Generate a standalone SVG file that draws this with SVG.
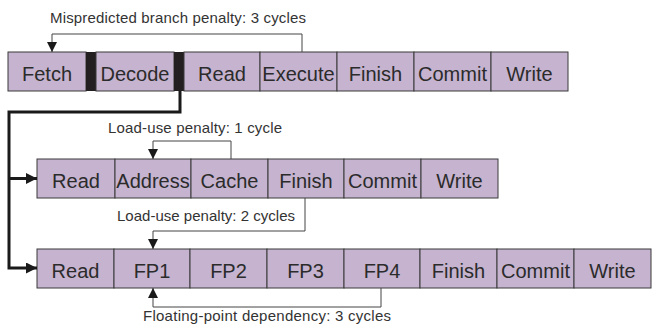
<svg xmlns="http://www.w3.org/2000/svg" width="652" height="329" viewBox="0 0 652 329">
<style>
.c{fill:#c5b3cf;stroke:#3a3a3a;stroke-width:1}
.bar{fill:#231f20}
.lb{font-family:"Liberation Sans",Arial,sans-serif;font-size:20px;fill:#2b2b2b;text-anchor:middle}
.sm{font-family:"Liberation Sans",Arial,sans-serif;font-size:15px;fill:#333;text-anchor:middle}
.thin{fill:none;stroke:#444;stroke-width:1}
.thick{fill:none;stroke:#1a1a1a;stroke-width:3}
</style>
<defs>
<marker id="a1" viewBox="0 0 10 10" refX="10" refY="5" markerWidth="10" markerHeight="10" markerUnits="userSpaceOnUse" orient="auto"><path d="M0,0 L10,5 L0,10 z" fill="#1a1a1a"/></marker>
<marker id="a2" viewBox="0 0 10 10" refX="10" refY="5" markerWidth="11" markerHeight="11" markerUnits="userSpaceOnUse" orient="auto"><path d="M0,0 L10,5 L0,10 z" fill="#1a1a1a"/></marker>
</defs>
<g id="row1">
<g id="r1-fetch"><rect class="c" x="8" y="52" width="78" height="39"/><text class="lb" x="47" y="80.5">Fetch</text></g>
<rect id="r1-bar1" class="bar" x="86" y="52" width="10" height="39"/>
<g id="r1-decode"><rect class="c" x="96" y="52" width="78" height="39"/><text class="lb" x="135" y="80.5">Decode</text></g>
<rect id="r1-bar2" class="bar" x="174" y="52" width="10" height="39"/>
<g id="r1-read"><rect class="c" x="184" y="52" width="76" height="39"/><text class="lb" x="222" y="80.5">Read</text></g>
<g id="r1-execute"><rect class="c" x="260" y="52" width="77" height="39"/><text class="lb" x="298.5" y="80.5">Execute</text></g>
<g id="r1-finish"><rect class="c" x="337" y="52" width="77" height="39"/><text class="lb" x="375.5" y="80.5">Finish</text></g>
<g id="r1-commit"><rect class="c" x="414" y="52" width="77" height="39"/><text class="lb" x="452.5" y="80.5">Commit</text></g>
<g id="r1-write"><rect class="c" x="491" y="52" width="77" height="39"/><text class="lb" x="529.5" y="80.5">Write</text></g>
</g>
<g id="row2">
<g id="r2-read"><rect class="c" x="37" y="159" width="78" height="39"/><text class="lb" x="76" y="187.5">Read</text></g>
<g id="r2-address"><rect class="c" x="115" y="159" width="76" height="39"/><text class="lb" x="153" y="187.5">Address</text></g>
<g id="r2-cache"><rect class="c" x="191" y="159" width="77" height="39"/><text class="lb" x="229.5" y="187.5">Cache</text></g>
<g id="r2-finish"><rect class="c" x="268" y="159" width="76" height="39"/><text class="lb" x="306" y="187.5">Finish</text></g>
<g id="r2-commit"><rect class="c" x="344" y="159" width="77" height="39"/><text class="lb" x="382.5" y="187.5">Commit</text></g>
<g id="r2-write"><rect class="c" x="421" y="159" width="77" height="39"/><text class="lb" x="459.5" y="187.5">Write</text></g>
</g>
<g id="row3">
<g id="r3-read"><rect class="c" x="37" y="249" width="77" height="39"/><text class="lb" x="75.5" y="277.5">Read</text></g>
<g id="r3-fp1"><rect class="c" x="114" y="249" width="76" height="39"/><text class="lb" x="152" y="277.5">FP1</text></g>
<g id="r3-fp2"><rect class="c" x="190" y="249" width="77" height="39"/><text class="lb" x="228.5" y="277.5">FP2</text></g>
<g id="r3-fp3"><rect class="c" x="267" y="249" width="77" height="39"/><text class="lb" x="305.5" y="277.5">FP3</text></g>
<g id="r3-fp4"><rect class="c" x="344" y="249" width="76" height="39"/><text class="lb" x="382" y="277.5">FP4</text></g>
<g id="r3-finish"><rect class="c" x="420" y="249" width="77" height="39"/><text class="lb" x="458.5" y="277.5">Finish</text></g>
<g id="r3-commit"><rect class="c" x="497" y="249" width="77" height="39"/><text class="lb" x="535.5" y="277.5">Commit</text></g>
<g id="r3-write"><rect class="c" x="574" y="249" width="77" height="39"/><text class="lb" x="612.5" y="277.5">Write</text></g>
</g>
<g id="connectors">
<path class="thin" d="M302,52 V34 H52 V52" marker-end="url(#a1)"/>
<path class="thin" d="M231,159 V141 H153 V159" marker-end="url(#a1)"/>
<path class="thin" d="M305,198 V231 H153 V249" marker-end="url(#a1)"/>
<path class="thin" d="M381,288 V307 H153 V288" marker-end="url(#a1)"/>
<path class="thick" d="M180,91 V112 H9 V268 H37" marker-end="url(#a2)"/>
<path class="thick" d="M9,178.5 H37" marker-end="url(#a2)"/>
</g>
<g id="labels">
<text class="sm" x="178" y="23" textLength="256">Mispredicted branch penalty: 3 cycles</text>
<text class="sm" x="195" y="133" textLength="174">Load-use penalty: 1 cycle</text>
<text class="sm" x="206" y="221" textLength="178">Load-use penalty: 2 cycles</text>
<text class="sm" x="267" y="321" textLength="248">Floating-point dependency: 3 cycles</text>
</g>
</svg>
